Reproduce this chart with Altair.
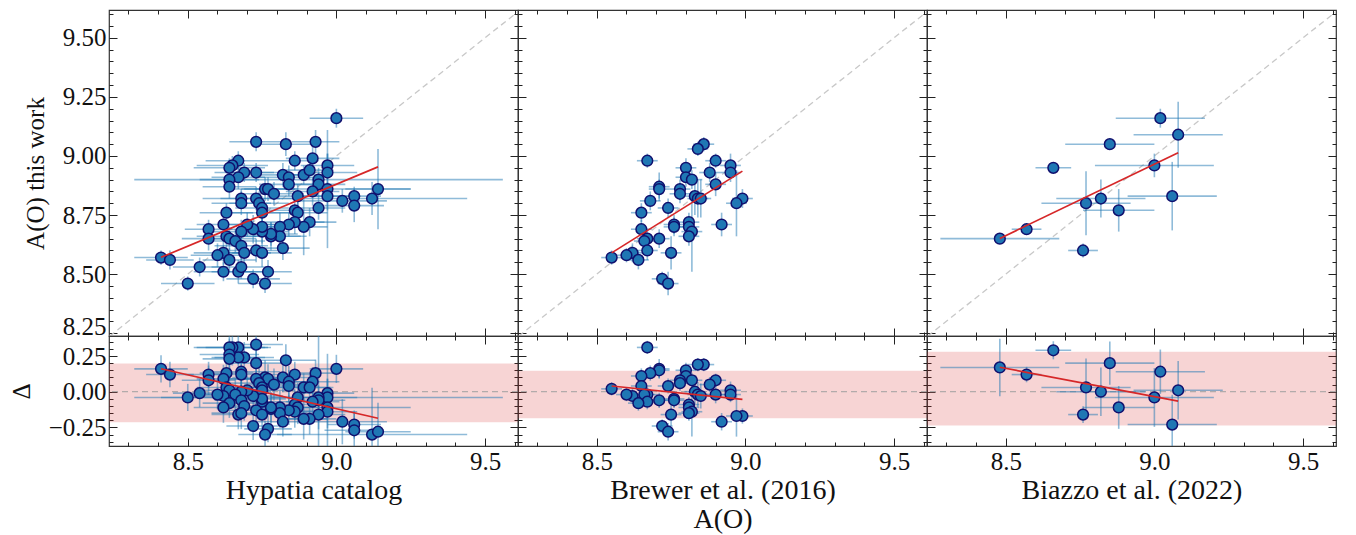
import altair as alt
import pandas as pd
import numpy as np

# ---------------- data ----------------
catalogs = ["Hypatia catalog", "Brewer et al. (2016)", "Biazzo et al. (2022)"]
x_titles = ["Hypatia catalog", ["Brewer et al. (2016)", "A(O)"], "Biazzo et al. (2022)"]

hyp_x = [9.00, 8.73, 8.83, 8.93, 8.92, 8.86, 8.67, 8.65, 8.64, 8.69, 8.73, 8.67, 8.64, 8.64,
         8.82, 8.84, 8.89, 8.91, 8.97, 8.97, 8.94, 8.94, 8.84, 8.76, 8.77, 8.79, 8.92, 8.97,
         8.97, 8.87, 9.02, 9.06, 9.06, 9.12, 9.14, 8.68, 8.68, 8.73, 8.74, 8.75, 8.75, 8.63,
         8.86, 8.87, 8.94, 8.91, 8.89, 8.86, 8.84, 8.81, 8.81, 8.78, 8.78, 8.75, 8.75, 8.72,
         8.70, 8.68, 8.62, 8.57, 8.57, 8.63, 8.64, 8.66, 8.68, 8.69, 8.73, 8.75, 8.82, 8.62,
         8.60, 8.64, 8.41, 8.44, 8.54, 8.62, 8.67, 8.68, 8.72, 8.77, 8.76, 8.50]
hyp_y = [9.16, 9.06, 9.05, 9.06, 8.99, 8.98, 8.98, 8.96, 8.95, 8.93, 8.93, 8.91, 8.90, 8.87,
         8.92, 8.91, 8.92, 8.94, 8.96, 8.93, 8.90, 8.88, 8.88, 8.86, 8.86, 8.84, 8.85, 8.86,
         8.83, 8.83, 8.81, 8.83, 8.79, 8.82, 8.86, 8.82, 8.80, 8.82, 8.80, 8.78, 8.76, 8.76,
         8.77, 8.76, 8.78, 8.72, 8.70, 8.72, 8.71, 8.70, 8.66, 8.66, 8.67, 8.68, 8.70, 8.69,
         8.71, 8.68, 8.71, 8.69, 8.65, 8.66, 8.65, 8.64, 8.62, 8.59, 8.60, 8.59, 8.61, 8.59,
         8.58, 8.56, 8.57, 8.56, 8.53, 8.51, 8.51, 8.53, 8.48, 8.51, 8.46, 8.46]
hyp_xerr = [0.09, 0.09, 0.10, 0.08, 0.09, 0.08, 0.11, 0.12, 0.12, 0.10, 0.09, 0.09, 0.10, 0.09,
            0.09, 0.10, 0.09, 0.08, 0.09, 0.10, 0.62, 0.09, 0.10, 0.11, 0.09, 0.10, 0.09, 0.28,
            0.10, 0.09, 0.15, 0.09, 0.10, 0.32, 0.11, 0.13, 0.10, 0.12, 0.10, 0.09, 0.11, 0.09,
            0.09, 0.10, 0.09, 0.09, 0.08, 0.10, 0.09, 0.10, 0.09, 0.10, 0.09, 0.09, 0.08, 0.10,
            0.09, 0.10, 0.09, 0.08, 0.09, 0.10, 0.09, 0.10, 0.09, 0.09, 0.09, 0.10, 0.09, 0.10,
            0.09, 0.09, 0.09, 0.08, 0.09, 0.10, 0.09, 0.10, 0.09, 0.08, 0.09, 0.09]
hyp_yerr = [0.04, 0.04, 0.05, 0.05, 0.05, 0.04, 0.04, 0.04, 0.04, 0.04, 0.04, 0.05, 0.05, 0.05,
            0.05, 0.05, 0.04, 0.04, 0.05, 0.08, 0.05, 0.05, 0.05, 0.05, 0.05, 0.05, 0.06, 0.25,
            0.06, 0.05, 0.05, 0.04, 0.07, 0.07, 0.17, 0.04, 0.05, 0.05, 0.05, 0.05, 0.06, 0.04,
            0.06, 0.06, 0.05, 0.06, 0.12, 0.05, 0.05, 0.06, 0.05, 0.06, 0.05, 0.05, 0.05, 0.06,
            0.05, 0.05, 0.04, 0.04, 0.05, 0.05, 0.05, 0.05, 0.06, 0.05, 0.05, 0.06, 0.05, 0.05,
            0.05, 0.05, 0.03, 0.04, 0.04, 0.04, 0.05, 0.05, 0.04, 0.05, 0.04, 0.03]

bre_x = [8.86, 8.84, 8.67, 8.90, 8.95, 8.95, 8.88, 8.80, 8.80, 8.82, 8.90, 8.71, 8.71, 8.78,
         8.78, 8.83, 8.84, 8.85, 8.68, 8.99, 8.97, 8.65, 8.74, 8.76, 8.76, 8.81, 8.81, 8.82,
         8.81, 8.92, 8.65, 8.67, 8.66, 8.71, 8.67, 8.75, 8.62, 8.60, 8.64, 8.55, 8.72, 8.74]
bre_y = [9.05, 9.03, 8.98, 8.98, 8.96, 8.93, 8.93, 8.95, 8.91, 8.90, 8.88, 8.87, 8.86, 8.86,
         8.84, 8.83, 8.82, 8.82, 8.81, 8.82, 8.80, 8.76, 8.78, 8.71, 8.70, 8.72, 8.70, 8.68,
         8.66, 8.71, 8.69, 8.65, 8.64, 8.65, 8.60, 8.59, 8.59, 8.58, 8.56, 8.57, 8.48, 8.46]
bre_xerr = [0.035] * 42
bre_yerr = [0.03, 0.03, 0.03, 0.03, 0.05, 0.04, 0.04, 0.04, 0.04, 0.04, 0.05, 0.06, 0.04, 0.04,
            0.04, 0.08, 0.08, 0.08, 0.04, 0.04, 0.14, 0.04, 0.04, 0.04, 0.04, 0.04, 0.04, 0.17,
            0.04, 0.05, 0.04, 0.04, 0.04, 0.04, 0.04, 0.07, 0.04, 0.03, 0.04, 0.03, 0.03, 0.05]

bia_x = [9.02, 9.08, 8.85, 8.66, 9.00, 8.82, 8.77, 8.88, 9.06, 8.57, 8.48, 8.76]
bia_y = [9.16, 9.09, 9.05, 8.95, 8.96, 8.82, 8.80, 8.77, 8.83, 8.69, 8.65, 8.60]
bia_xerr = [0.15, 0.15, 0.15, 0.06, 0.20, 0.15, 0.15, 0.12, 0.15, 0.05, 0.20, 0.05]
bia_yerr = [0.04, 0.14, 0.02, 0.02, 0.05, 0.08, 0.135, 0.09, 0.145, 0.02, 0.02, 0.03]

# linear fits (end points)
fit_x0 = [8.41, 8.55, 8.48]
fit_x1 = [9.14, 8.99, 9.08]
fit_y0 = [8.571, 8.590, 8.651]
fit_y1 = [8.954, 8.936, 9.014]

# shaded scatter band in the residual panels
band_lo = [-0.214, -0.186, -0.237]
band_hi = [0.197, 0.147, 0.279]

# axis limits and ticks
XLIM = [8.235, 9.611]
YLIM = [8.238, 9.618]
DLIM = [-0.38, 0.39]
x_major = [8.5, 9.0, 9.5]
x_minor = [8.3, 8.4, 8.6, 8.7, 8.8, 8.9, 9.1, 9.2, 9.3, 9.4, 9.6]
y_major = [8.25, 8.5, 8.75, 9.0, 9.25, 9.5]
y_minor = [8.3, 8.35, 8.4, 8.45, 8.55, 8.6, 8.65, 8.7, 8.8, 8.85, 8.9, 8.95,
           9.05, 9.1, 9.15, 9.2, 9.3, 9.35, 9.4, 9.45, 9.55, 9.6]
d_major = [-0.25, 0.0, 0.25]
d_minor = [-0.35, -0.3, -0.2, -0.15, -0.1, -0.05, 0.05, 0.1, 0.15, 0.2, 0.3, 0.35]
diag_vals = [8.0, 10.0]

# ---------------- tables ----------------
sets = [(hyp_x, hyp_y, hyp_xerr, hyp_yerr),
        (bre_x, bre_y, bre_xerr, bre_yerr),
        (bia_x, bia_y, bia_xerr, bia_yerr)]
dfs = []
for xs, ys, xe, ye in sets:
    d = pd.DataFrame({"x": xs, "y": ys, "xe": xe, "ye": ye})
    d["xlo"] = d.x - d.xe
    d["xhi"] = d.x + d.xe
    d["ylo"] = d.y - d.ye
    d["yhi"] = d.y + d.ye
    d["d"] = d.y - d.x
    de = np.sqrt(d.xe ** 2 + d.ye ** 2)
    d["dlo"] = d.d - de
    d["dhi"] = d.d + de
    dfs.append(d)

W, HT, HB = 409, 326, 110
FONT = "Liberation Serif"
PT_FILL = "#1f77b4"
PT_STROKE = "#10106e"
RED = "#d62728"


def ax(orient, values, size, labels=False, fmt=None, title=None, tfs=26, tpad=6,
       lift_low=False):
    kw = dict(orient=orient, values=values, tickSize=size, offset=-size, domain=False,
              grid=False, labels=labels, ticks=True, tickColor="#222222", tickWidth=1,
              title=title, labelFlush=False)
    if labels:
        kw.update(format=fmt, labelPadding=3, labelFont=FONT, labelFontSize=25,
                  labelColor="#111111", labelOverlap=False)
        if lift_low:
            kw["labelOffset"] = {"condition": {"test": "datum.value < 8.3", "value": -7},
                                 "value": 0}
    if title is not None:
        kw.update(titleFont=FONT, titleFontSize=tfs, titleFontWeight="normal",
                  titleColor="#111111", titlePadding=tpad, titleLineHeight=29)
    return alt.Axis(**kw)


def make_panel(i, row):
    df = dfs[i]
    xs = alt.Scale(domain=XLIM, nice=False, zero=False)
    ylim = YLIM if row == 0 else DLIM
    ys = alt.Scale(domain=ylim, nice=False, zero=False)
    ymaj = y_major if row == 0 else d_major
    ymin = y_minor if row == 0 else d_minor
    is_left = i == 0
    is_bottom = row == 1
    ytitle = ("A(O) this work" if row == 0 else "Δ") if is_left else None
    xtitle = x_titles[i] if is_bottom else None
    H = HT if row == 0 else HB

    carrier_df = pd.DataFrame({"x": XLIM, "y": ylim})
    axes_pairs = [
        (ax("bottom", x_major, 8, labels=is_bottom, fmt=".1f", title=xtitle, tfs=28, tpad=2),
         ax("left", ymaj, 8, labels=is_left, fmt=".2f", title=ytitle, tfs=25, tpad=14,
            lift_low=(row == 0))),
        (ax("bottom", x_minor, 4), ax("left", ymin, 4)),
        (ax("top", x_major, 8), ax("right", ymaj, 8)),
        (ax("top", x_minor, 4), ax("right", ymin, 4)),
    ]
    layers = []
    for xa, ya in axes_pairs:
        layers.append(
            alt.Chart(carrier_df).mark_point(opacity=0, size=1).encode(
                x=alt.X("x:Q", scale=xs, axis=xa),
                y=alt.Y("y:Q", scale=ys, axis=ya),
            )
        )

    X = lambda f: alt.X(f, scale=xs, axis=None)
    Y = lambda f: alt.Y(f, scale=ys, axis=None)

    if row == 0:
        diag = pd.DataFrame({"x": diag_vals, "y": diag_vals})
        layers.append(
            alt.Chart(diag).mark_line(clip=True, color="#c8c8c8", strokeDash=[6, 4],
                                      strokeWidth=1.3).encode(x=X("x:Q"), y=Y("y:Q"))
        )
        yf, ylo, yhi = "y:Q", "ylo:Q", "yhi:Q"
        fit = pd.DataFrame({"x": [fit_x0[i], fit_x1[i]], "y": [fit_y0[i], fit_y1[i]]})
    else:
        band = pd.DataFrame({"lo": [band_lo[i]], "hi": [band_hi[i]]})
        layers.append(
            alt.Chart(band).mark_rect(color=RED, opacity=0.2).encode(
                y=Y("lo:Q"), y2="hi:Q")
        )
        layers.append(
            alt.Chart(band).mark_rule(color="#a0a0a0", strokeDash=[6, 4], strokeWidth=1.3,
                                      opacity=0.8).encode(y=alt.Y(datum=0, scale=ys, axis=None))
        )
        yf, ylo, yhi = "d:Q", "dlo:Q", "dhi:Q"
        fx = [fit_x0[i], fit_x1[i]]
        fy = [fit_y0[i], fit_y1[i]]
        fit = pd.DataFrame({"x": fx, "y": [fy[0] - fx[0], fy[1] - fx[1]]})

    base = alt.Chart(df)
    layers.append(
        base.mark_rule(clip=True, color=PT_FILL, opacity=0.5, strokeWidth=1.6).encode(
            x=X("xlo:Q"), x2="xhi:Q", y=Y(yf))
    )
    layers.append(
        base.mark_rule(clip=True, color=PT_FILL, opacity=0.5, strokeWidth=1.6).encode(
            x=X("x:Q"), y=Y(ylo), y2=yhi)
    )
    layers.append(
        base.mark_circle(fill=PT_FILL, stroke=PT_STROKE, strokeWidth=1.5, opacity=1,
                         size=115).encode(x=X("x:Q"), y=Y(yf))
    )
    layers.append(
        alt.Chart(fit).mark_line(color=RED, strokeWidth=1.7).encode(
            x=X("x:Q"), y=Y("y:Q"))
    )

    return alt.layer(*layers).resolve_axis(x="independent", y="independent").properties(
        width=W, height=H)


panels = [make_panel(i, 0) for i in range(3)] + [make_panel(i, 1) for i in range(3)]

chart = alt.concat(*panels, columns=3, spacing=0, bounds="flush").properties(
    padding={"left": 0, "top": 0, "right": 0, "bottom": 0}
).configure_view(
    stroke="#333333", strokeWidth=1.2
).configure_axis(
    labelFont=FONT, titleFont=FONT, titleFontWeight="normal"
)

chart.save("out.html", embed_options={"renderer": "svg", "actions": False})
